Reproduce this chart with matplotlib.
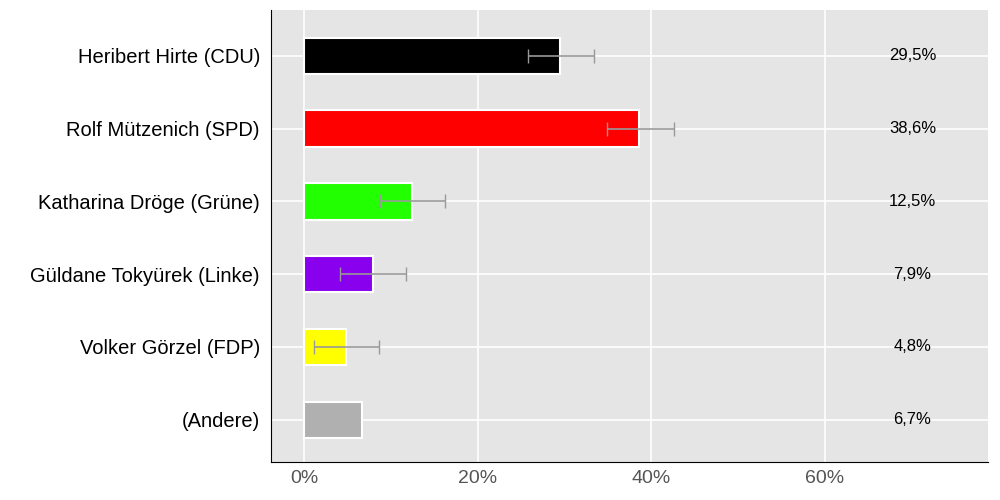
import matplotlib
matplotlib.use("Agg")
import matplotlib.pyplot as plt
from matplotlib.ticker import FuncFormatter

plt.rcParams['font.family'] = ['Liberation Sans', 'DejaVu Sans']

candidates = ["Heribert Hirte (CDU)", "Rolf Mützenich (SPD)", "Katharina Dröge (Grüne)",
              "Güldane Tokyürek (Linke)", "Volker Görzel (FDP)", "(Andere)"]
values = [29.5, 38.6, 12.5, 7.9, 4.8, 6.7]
err_low = [25.8, 34.9, 8.7, 4.2, 1.2, None]
err_high = [33.4, 42.6, 16.2, 11.7, 8.6, None]
labels = ["29,5%", "38,6%", "12,5%", "7,9%", "4,8%", "6,7%"]
colors = ["#000000", "#ff0000", "#22ff00", "#8800ee", "#ffff00", "#b0b0b0"]

fig = plt.figure(figsize=(10, 5), dpi=100)
ax = fig.add_axes([0.271, 0.076, 0.717, 0.904])
ax.set_facecolor("#e5e5e5")
y = list(range(len(candidates)))
ax.barh(y, values, height=0.5, color=colors, edgecolor="white", linewidth=1.5, zorder=3)
for i in y:
    if err_low[i] is not None:
        ax.errorbar([(err_low[i] + err_high[i]) / 2], [i],
                    xerr=[[(err_high[i] - err_low[i]) / 2]], fmt="none",
                    ecolor="#999999", capsize=5, elinewidth=1.2, zorder=4)
    ax.text(70.1, i, labels[i], ha="center", va="center", fontsize=12, zorder=5)

ax.set_xlim(-3.8, 78.8)
ax.set_ylim(len(candidates) - 1 + 0.58, -0.63)
ax.set_xticks([0, 20, 40, 60])
ax.xaxis.set_major_formatter(FuncFormatter(lambda v, p: f"{int(v)}%"))
ax.set_yticks(y)
ax.set_yticklabels(candidates, fontsize=14.5)
ax.tick_params(axis="x", labelsize=14, colors="#555555", length=0, pad=6)
ax.tick_params(axis="y", length=0, pad=8)
ax.grid(True, color="white", linewidth=1.2, zorder=0)
ax.set_axisbelow(True)
for s in ["top", "right"]:
    ax.spines[s].set_visible(False)
ax.spines["left"].set_color("black")
ax.spines["bottom"].set_color("black")
fig.savefig("out.png")
